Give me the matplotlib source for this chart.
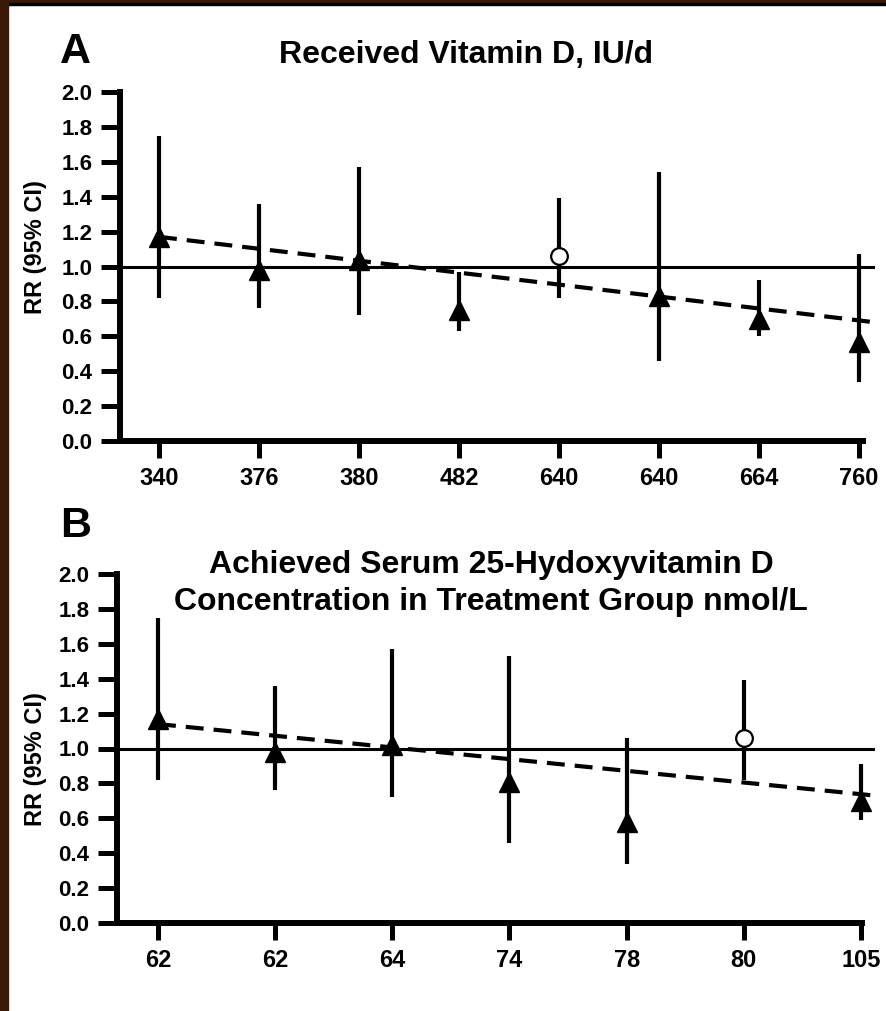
import matplotlib
matplotlib.use('Agg')
import matplotlib.pyplot as plt
from matplotlib.patches import Rectangle

plt.rcParams['font.family'] = ['Liberation Sans', 'DejaVu Sans']
plt.rcParams['font.weight'] = 'bold'

# ============================================
# Panel A - received vitamin D, IU/d
# ============================================
dose_labels = ['340', '376', '380', '482', '640', '640', '664', '760']
rr_a = [1.17, 0.98, 1.04, 0.75, 1.06, 0.83, 0.70, 0.57]
lo_a = [0.82, 0.76, 0.72, 0.63, 0.82, 0.46, 0.60, 0.34]
hi_a = [1.75, 1.36, 1.57, 0.97, 1.39, 1.54, 0.92, 1.07]
open_a = [False, False, False, False, True, False, False, False]
trend_a = [1.17, 0.68]   # meta-regression line, first study -> right edge

# ============================================
# Panel B - achieved serum 25(OH)D, nmol/L
# ============================================
serum_labels = ['62', '62', '64', '74', '78', '80', '105']
rr_b = [1.17, 0.98, 1.02, 0.81, 0.58, 1.06, 0.70]
lo_b = [0.82, 0.76, 0.72, 0.46, 0.34, 0.82, 0.59]
hi_b = [1.75, 1.36, 1.57, 1.53, 1.06, 1.39, 0.91]
open_b = [False, False, False, False, False, True, False]
trend_b = [1.14, 0.73]

W, H = 887, 1011
fig = plt.figure(figsize=(W / 100, H / 100), dpi=100)
fig.patch.set_facecolor('white')

# dark frame at the top and left edges of the scan
brown = '#3a1906'
fig.patches.append(Rectangle((0, 1 - 3 / H), 1, 3 / H, transform=fig.transFigure, color=brown, zorder=0))
fig.patches.append(Rectangle((0, 1 - 5 / H), 1, 2 / H, transform=fig.transFigure, color='black', zorder=0))
fig.patches.append(Rectangle((0, 0), 8 / W, 1, transform=fig.transFigure, color=brown, zorder=1))


def px_axes(x0, x1, y_top, y_bot):
    return fig.add_axes([x0 / W, 1 - y_bot / H, (x1 - x0) / W, (y_bot - y_top) / H])


def draw_panel(ax, labels, rr, lo, hi, is_open, trend, xlim, spine_right, label_x, label_y):
    n = len(labels)
    x = list(range(n))
    ax.set_xlim(*xlim)
    ax.set_ylim(0, 2.0)

    ax.axhline(1.0, color='black', lw=2.2, zorder=2)
    ax.plot([0, xlim[1]], trend, color='black', lw=3, dashes=(4.3, 2.4), zorder=3)

    for i in x:
        ax.plot([i, i], [lo[i], hi[i]], color='black', lw=3, solid_capstyle='butt', zorder=4)
        if is_open[i]:
            ax.plot(i, rr[i], 'o', ms=12, mfc='white', mec='black', mew=1.6, zorder=5)
        else:
            ax.plot(i, rr[i], '^', ms=14, color='black', zorder=5)

    for s in ['top', 'right']:
        ax.spines[s].set_visible(False)
    for s in ['left', 'bottom']:
        ax.spines[s].set_linewidth(4.3)
    ax.spines['bottom'].set_bounds(xlim[0], spine_right)
    ax.spines['left'].set_capstyle('projecting')

    ax.set_yticks([0.0, 0.2, 0.4, 0.6, 0.8, 1.0, 1.2, 1.4, 1.6, 1.8, 2.0])
    ax.set_yticklabels(['0.0', '0.2', '0.4', '0.6', '0.8', '1.0', '1.2', '1.4', '1.6', '1.8', '2.0'])
    ax.set_xticks(x)
    ax.set_xticklabels(labels)
    ax.tick_params(axis='y', length=14, width=3.6, pad=6, labelsize=16)
    ax.tick_params(axis='x', length=12, width=3.6, pad=7, labelsize=17)
    for t in ax.get_xticklabels() + ax.get_yticklabels():
        t.set_fontweight('bold')

    ax.set_ylabel('RR (95% CI)', fontsize=17, fontweight='bold')
    ax.yaxis.set_label_coords(label_x, label_y)
    ax.set_facecolor('none')


# panel A
ax_a = px_axes(120, 875, 92, 441)
draw_panel(ax_a, dose_labels, rr_a, lo_a, hi_a, open_a, trend_a,
           xlim=(-0.39, 7.16), spine_right=7.04, label_x=-0.097, label_y=0.555)

# panel B
ax_b = px_axes(117, 875, 574, 923)
draw_panel(ax_b, serum_labels, rr_b, lo_b, hi_b, open_b, trend_b,
           xlim=(-0.35, 6.12), spine_right=6.01, label_x=-0.092, label_y=0.47)

# panel letters and titles
fig.text(60 / W, 1 - 63 / H, 'A', fontsize=31, fontweight='bold', va='baseline')
fig.text(466 / W, 1 - 63 / H, 'Received Vitamin D, IU/d', fontsize=23,
         fontweight='bold', ha='center', va='baseline')
fig.text(60 / W, 1 - 537 / H, 'B', fontsize=31, fontweight='bold', va='baseline')
fig.text(491 / W, 1 - 573 / H, 'Achieved Serum 25-Hydoxyvitamin D', fontsize=23,
         fontweight='bold', ha='center', va='baseline')
fig.text(491 / W, 1 - 610 / H, 'Concentration in Treatment Group nmol/L', fontsize=23,
         fontweight='bold', ha='center', va='baseline')

fig.savefig('out.png', dpi=100)
